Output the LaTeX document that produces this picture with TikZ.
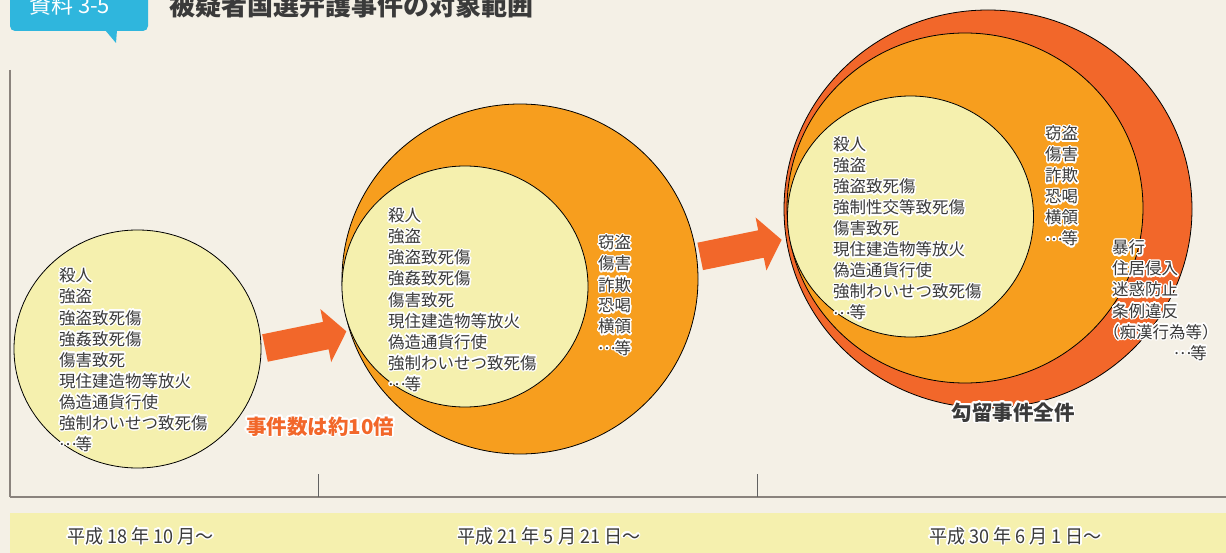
\documentclass[tikz,border=0pt]{standalone}
\usepackage{fontspec}
\setmainfont{Noto Sans CJK JP}
\usepackage{contour}
\contourlength{1.4pt}
\contournumber{24}
\definecolor{bgc}{HTML}{F4F0E6}
\definecolor{yel}{HTML}{F5F0AE}
\definecolor{org}{HTML}{F79E1E}
\definecolor{redo}{HTML}{F2672A}
\definecolor{lblue}{HTML}{2FB6DD}
\definecolor{axg}{HTML}{8A837D}
\definecolor{txt}{HTML}{3A3A3A}
\newcommand{\hl}[1]{\contour{white}{#1}}
\newcommand{\middots}{\makebox[1em][l]{\raisebox{0.3em}{…}}}
\tikzset{
  item/.style={font=\fontsize{16.5}{21}\selectfont, text=txt, inner sep=0pt, anchor=base west},
  circ/.style={draw=black, line width=0.8pt},
  datelbl/.style={font=\fontsize{19}{22}\selectfont, text=txt, inner sep=0pt, anchor=base},
}
\begin{document}
\begin{tikzpicture}[x=1pt,y=-1pt]
\useasboundingbox (0,0) rectangle (1226,553);
\fill[bgc] (0,0) rectangle (1226,553);
% header
\fill[lblue, rounded corners=5pt] (10,-10) rectangle (148,31);
\fill[lblue] (105,30) -- (117,30) -- (116,43) -- cycle;
\node[font=\fontsize{22}{24}\selectfont, text=white, inner sep=0pt, anchor=base west] (tag) at (29,14) {資料 3-5};
\node[font=\fontsize{26}{28}\selectfont\bfseries, text=txt, inner sep=0pt, anchor=base west] (title) at (169,16) {被疑者国選弁護事件の対象範囲};
% axes
\draw[axg, line width=1.5pt] (10,70) -- (10,497);
\draw[axg, line width=2pt] (10,497) -- (1226,497);
\draw[txt!80, line width=0.8pt] (318,474) -- (318,497);
\draw[txt!80, line width=0.8pt] (757,474) -- (757,497);
% band
\fill[yel] (10,513) rectangle (1226,553);
\node[datelbl] (d1) at (140.5,543) {\hl{\scalebox{0.95}[1]{平成 18 年 10 月～}}};
\node[datelbl] (d2) at (549,543) {\hl{\scalebox{0.95}[1]{平成 21 年 5 月 21 日～}}};
\node[datelbl] (d3) at (1015.5,543) {\hl{\scalebox{0.95}[1]{平成 30 年 6 月 1 日～}}};
% circle 1
\draw[circ, fill=yel] (137.5,349) ellipse [x radius=123.5, y radius=119];
\foreach \t [count=\i from 0] in {殺人,強盗,強盗致死傷,強姦致死傷,傷害致死,現住建造物等放火,偽造通貨行使,強制わいせつ致死傷,\middots 等}
  \node[item] (a\i) at (59,282+21*\i) {\hl{\t}};
% arrow 1
\fill[redo] (262.2,334.3) -- (323,321.9) -- (320.4,309.1) -- (346.4,331.4) -- (331.2,362.1) -- (328.6,349.3) -- (267.8,361.7) -- cycle;
\node[font=\fontsize{20.5}{22}\selectfont\bfseries, text=redo, inner sep=0pt, anchor=base west] (ten) at (246,434) {\hl{事件数は約10倍}};
% circle 2
\draw[circ, fill=org] (520,279) ellipse [x radius=178, y radius=175];
\draw[circ, fill=yel] (465,286.5) ellipse [x radius=123, y radius=120.5];
\foreach \t [count=\i from 0] in {殺人,強盗,強盗致死傷,強姦致死傷,傷害致死,現住建造物等放火,偽造通貨行使,強制わいせつ致死傷,\middots 等}
  \node[item] (b\i) at (388,222+21*\i) {\hl{\t}};
\foreach \t [count=\i from 0] in {窃盗,傷害,詐欺,恐喝,横領,\middots 等}
  \node[item] (bb\i) at (598,249+21*\i) {\hl{\t}};
% arrow 2
\fill[redo] (697.4,242.7) -- (758.2,230.3) -- (755.6,217.5) -- (781.6,239.8) -- (766.4,270.5) -- (763.8,257.7) -- (703,270.1) -- cycle;
% circle 3
\draw[circ, fill=redo] (988,209) ellipse [x radius=204, y radius=199];
\draw[circ, fill=org] (965,208) ellipse [x radius=178, y radius=175];
\draw[circ, fill=yel] (910.5,216.5) ellipse [x radius=123, y radius=120.5];
\foreach \t [count=\i from 0] in {殺人,強盗,強盗致死傷,強制性交等致死傷,傷害致死,現住建造物等放火,偽造通貨行使,強制わいせつ致死傷,\middots 等}
  \node[item] (c\i) at (833,151+21*\i) {\hl{\t}};
\foreach \t [count=\i from 0] in {窃盗,傷害,詐欺,恐喝,横領,\middots 等}
  \node[item] (cc\i) at (1045,140+21*\i) {\hl{\t}};
\foreach \t [count=\i from 0] in {暴行,住居侵入,迷惑防止,条例違反}
  \node[item] (cr\i) at (1112,254+21*\i) {\hl{\t}};
\node[item] (cr4) at (1103,338) {\hl{（痴漢行為等）}};
\node[item, anchor=base east] (crend) at (1207,359) {\hl{\middots 等}};
\node[font=\fontsize{20.5}{22}\selectfont\bfseries, text=txt, inner sep=0pt, anchor=base] (all) at (1013,420) {\hl{勾留事件全件}};
\end{tikzpicture}
\end{document}
